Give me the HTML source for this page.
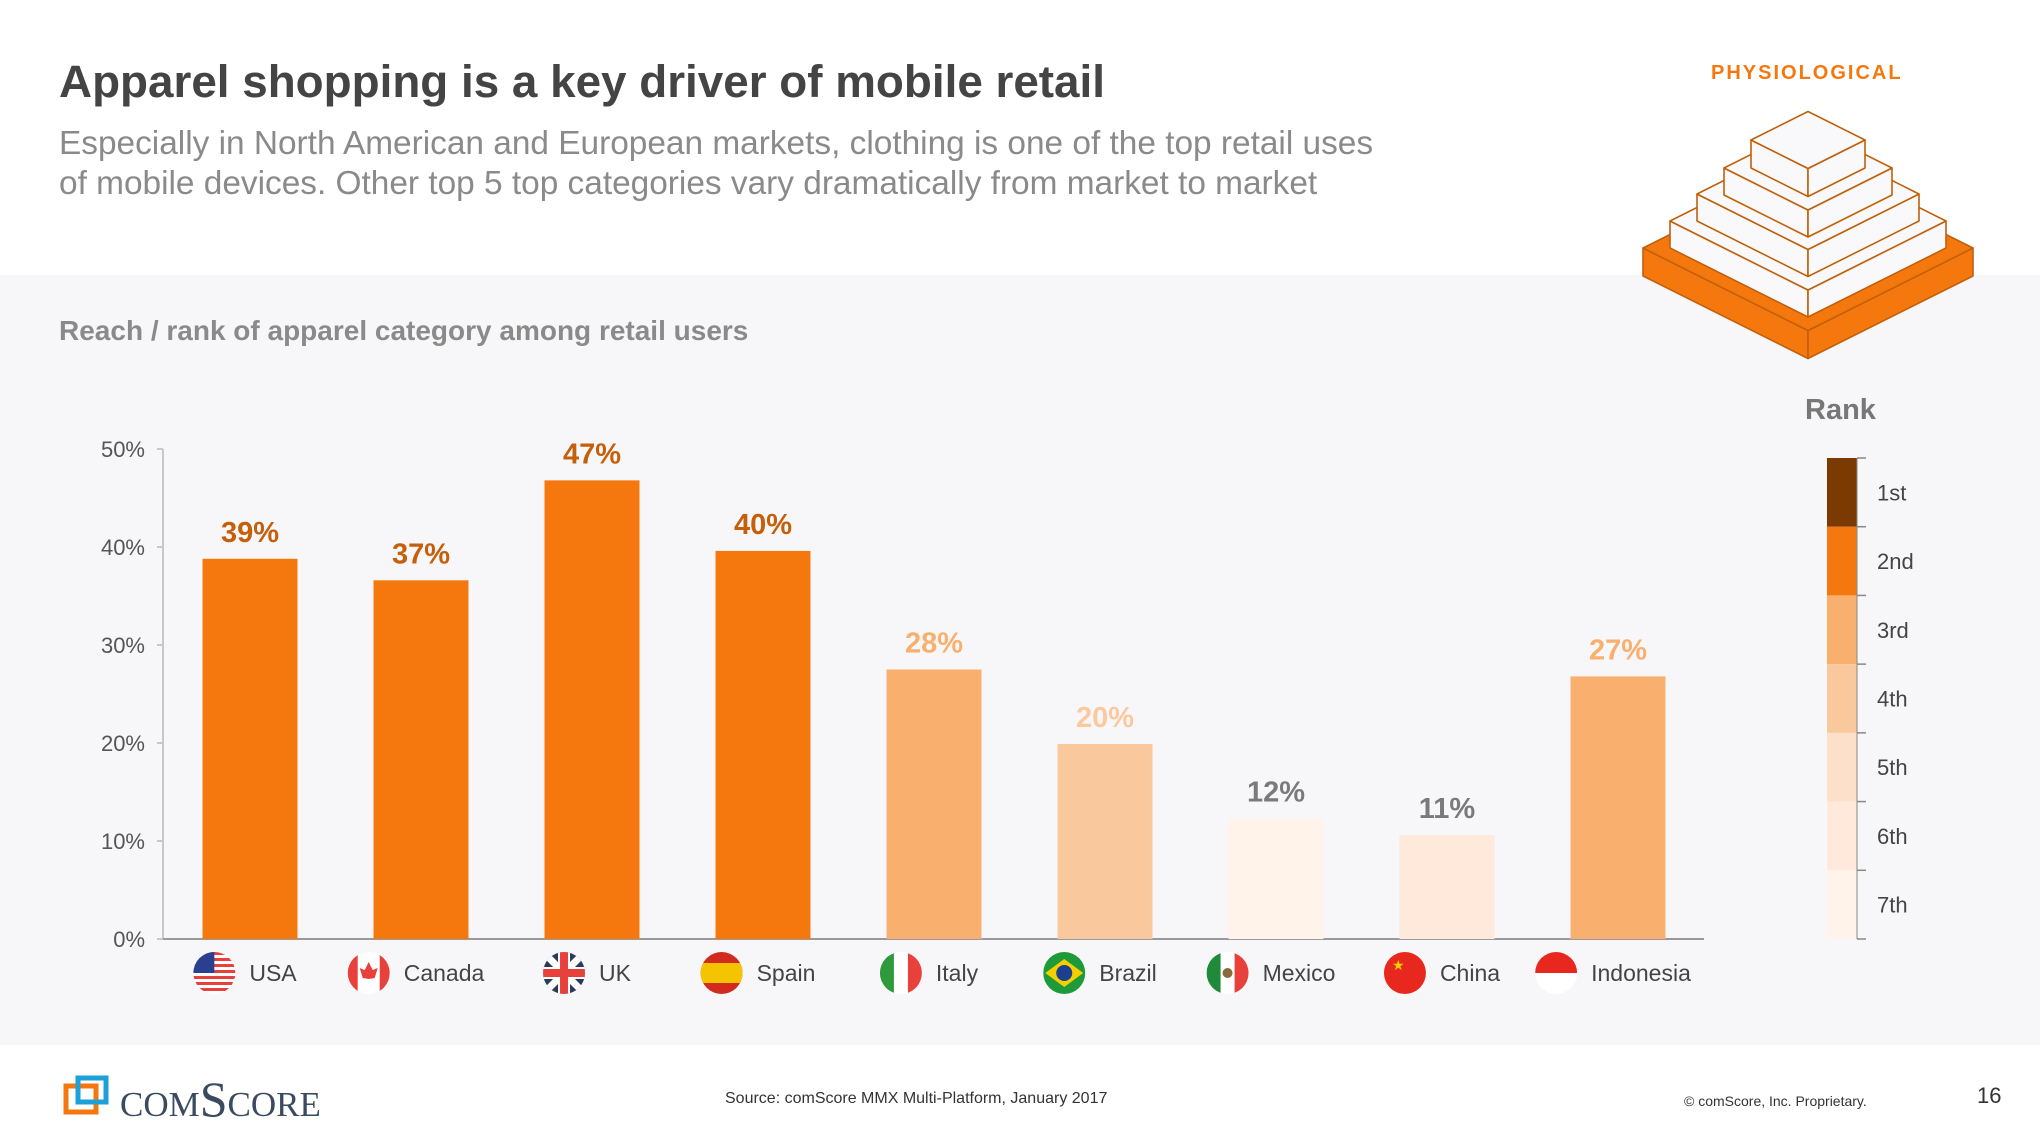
<!DOCTYPE html>
<html><head><meta charset="utf-8">
<style>
body{margin:0;width:2040px;height:1148px;background:#fff;font-family:"Liberation Sans",Arial,sans-serif;position:relative;overflow:hidden}
.abs{position:absolute}
</style></head>
<body>
<div class="abs" style="left:0;top:275px;width:2040px;height:770px;background:#f7f7fa"></div>
<div class="abs" style="left:59px;top:56px;font-size:45.8px;font-weight:bold;color:#444">Apparel shopping is a key driver of mobile retail</div>
<div class="abs" style="left:59px;top:124px;font-size:33.4px;line-height:40px;color:#8a8a8a">Especially in North American and European markets, clothing is one of the top retail uses<br>of mobile devices. Other top 5 top categories vary dramatically from market to market</div>
<div class="abs" style="left:1711px;top:62px;font-size:20px;font-weight:bold;letter-spacing:2px;color:#f5780f">PHYSIOLOGICAL</div>
<div class="abs" style="left:59px;top:315px;font-size:28px;font-weight:bold;color:#8a8a8a">Reach / rank of apparel category among retail users</div>

<svg class="abs" style="left:0;top:0" width="2040" height="400" id="pyr"></svg>
<svg class="abs" style="left:0;top:0" width="2040" height="1148" id="chart"></svg>

<div class="abs" style="left:62px;top:1074px;width:300px;height:50px">
<svg width="50" height="44" style="position:absolute;left:0;top:0"><rect x="4" y="12" width="30" height="26" fill="none" stroke="#f5780f" stroke-width="5"/><rect x="16" y="4" width="28" height="24" fill="none" stroke="#1ea0d8" stroke-width="5"/></svg>
<span style="position:absolute;left:58px;top:-4px;font-family:'Liberation Serif',serif;font-size:50px;font-variant:small-caps;color:#3a4a60">comScore</span></div>
<div class="abs" style="left:725px;top:1090px;font-size:16px;color:#333">Source: comScore MMX Multi-Platform, January 2017</div>
<div class="abs" style="left:1684px;top:1093px;font-size:14px;color:#333">© comScore, Inc. Proprietary.</div>
<div class="abs" style="left:1977px;top:1083px;font-size:22px;color:#333">16</div>

<script>
const countries=["USA","Canada","UK","Spain","Italy","Brazil","Mexico","China","Indonesia"];
const values=[38.8,36.6,46.8,39.6,27.5,19.9,12.3,10.6,26.8];
const ranks=[2,2,2,2,3,4,7,6,3];
const yTicks=[0,10,20,30,40,50];
const rankLabels=["1st","2nd","3rd","4th","5th","6th","7th"];

const NS="http://www.w3.org/2000/svg";
const rankColors=["#7a3a02","#f5780f","#f9b06e","#fac89d","#fde0c9","#fee9da","#fff3ea"];
const labelColors=["#7a3a02","#c55f0a","#f9b06e","#fbc99d","#8a8a8a","#7a7a7a","#7a7a7a"];
function mk(parent,tag,attrs){const e=document.createElementNS(NS,tag);for(const k in attrs)e.setAttribute(k,attrs[k]);parent.appendChild(e);return e;}
const svg=document.getElementById('chart');
const x0=163,x1=1704,yTop=449,yBot=939,vmax=50;
function y(v){return yBot-(v/vmax)*(yBot-yTop);}
const step=171,first=250,bw=95;
function xc(i){return first+i*step;}

let ax=mk(svg,'line',{x1:x0,y1:yTop,x2:x0,y2:yBot,stroke:'#c8c8cc','stroke-width':2});


let bx=mk(svg,'line',{x1:x0,y1:yBot,x2:x1,y2:yBot,stroke:'#9a9a9e','stroke-width':2});


yTicks.forEach(t=>{
  mk(svg,'line',{x1:x0-6,y1:y(t),x2:x0,y2:y(t),stroke:'#c8c8cc','stroke-width':2});
  const tx=mk(svg,'text',{x:x0-18,y:y(t)+8,'text-anchor':'end','font-size':22,fill:'#555'});
  tx.textContent=t+'%';
  
  
});
values.forEach((v,i)=>{
  const r=mk(svg,'rect',{x:xc(i)-bw/2,y:y(v),width:bw,height:yBot-y(v),fill:rankColors[ranks[i]-1]});
  
  
  const t=mk(svg,'text',{x:xc(i),y:y(v)-17,'text-anchor':'middle','font-size':29,'font-weight':'bold',fill:labelColors[ranks[i]-1]});
  t.textContent=Math.round(v)+'%';
  
  
});
const flagDraw={
 USA:(g,cx,cy)=>{for(let k=0;k<7;k++)mk(g,'rect',{x:cx-21,y:cy-21+k*6,width:42,height:3,fill:'#e8403a'});mk(g,'rect',{x:cx-21,y:cy-21,width:21,height:21,fill:'#2a3f8f'});},
 Canada:(g,cx,cy)=>{mk(g,'rect',{x:cx-21,y:cy-21,width:10,height:42,fill:'#e8403a'});mk(g,'rect',{x:cx+11,y:cy-21,width:10,height:42,fill:'#e8403a'});mk(g,'path',{d:`M${cx} ${cy-11}L${cx+4} ${cy-3}L${cx+9} ${cy-5}L${cx+6} ${cy+5}L${cx} ${cy+6}L${cx-6} ${cy+5}L${cx-9} ${cy-5}L${cx-4} ${cy-3}Z`,fill:'#e8403a'});},
 UK:(g,cx,cy)=>{mk(g,'rect',{x:cx-21,y:cy-21,width:42,height:42,fill:'#2a3a5a'});mk(g,'path',{d:`M${cx-21} ${cy-21}L${cx+21} ${cy+21}M${cx+21} ${cy-21}L${cx-21} ${cy+21}`,stroke:'#fff','stroke-width':7});mk(g,'rect',{x:cx-21,y:cy-6,width:42,height:12,fill:'#fff'});mk(g,'rect',{x:cx-6,y:cy-21,width:12,height:42,fill:'#fff'});mk(g,'rect',{x:cx-21,y:cy-4,width:42,height:8,fill:'#e8403a'});mk(g,'rect',{x:cx-4,y:cy-21,width:8,height:42,fill:'#e8403a'});},
 Spain:(g,cx,cy)=>{mk(g,'rect',{x:cx-21,y:cy-21,width:42,height:42,fill:'#d32a1f'});mk(g,'rect',{x:cx-21,y:cy-10,width:42,height:20,fill:'#f5c400'});},
 Italy:(g,cx,cy)=>{mk(g,'rect',{x:cx-21,y:cy-21,width:14,height:42,fill:'#2e9a3c'});mk(g,'rect',{x:cx+7,y:cy-21,width:14,height:42,fill:'#e8403a'});},
 Brazil:(g,cx,cy)=>{mk(g,'rect',{x:cx-21,y:cy-21,width:42,height:42,fill:'#1e9a3a'});mk(g,'path',{d:`M${cx-19} ${cy}L${cx} ${cy-14}L${cx+19} ${cy}L${cx} ${cy+14}Z`,fill:'#f5d000'});mk(g,'circle',{cx:cx,cy:cy,r:8,fill:'#1d3f8f'});},
 Mexico:(g,cx,cy)=>{mk(g,'rect',{x:cx-21,y:cy-21,width:14,height:42,fill:'#1e8a3a'});mk(g,'rect',{x:cx+7,y:cy-21,width:14,height:42,fill:'#e8403a'});mk(g,'circle',{cx:cx,cy:cy,r:5,fill:'#8a6a3a'});},
 China:(g,cx,cy)=>{mk(g,'rect',{x:cx-21,y:cy-21,width:42,height:42,fill:'#e8281e'});mk(g,'text',{x:cx-13,y:cy-3,'font-size':14,fill:'#f5d000'}).textContent='★';},
 Indonesia:(g,cx,cy)=>{mk(g,'rect',{x:cx-21,y:cy-21,width:42,height:21,fill:'#e8281e'});}
};
countries.forEach((c,i)=>{
  const tx=mk(svg,'text',{x:0,y:981,'font-size':23,fill:'#444'});
  tx.textContent=c;
  
  
  const w=tx.getComputedTextLength();
  const total=42+14+w;
  const fx=xc(i)-total/2+16;
  tx.setAttribute('x',fx+35);
  const id='cl'+i;
  const cp=mk(svg,'clipPath',{id:id});mk(cp,'circle',{cx:fx,cy:973,r:21});
  const g=mk(svg,'g',{'clip-path':`url(#${id})`});
  
  
  mk(g,'rect',{x:fx-21,y:952,width:42,height:42,fill:'#fff'});
  flagDraw[c](g,fx,973);
});
const lt=mk(svg,'text',{x:1805,y:419,'font-size':29,'font-weight':'bold',fill:'#777'});
lt.textContent='Rank';


const segH=(939-458)/rankLabels.length;
rankLabels.forEach((r,k)=>{
  const s=mk(svg,'rect',{x:1827,y:458+k*segH,width:30,height:segH,fill:rankColors[k]});
  
  
  mk(svg,'line',{x1:1857,y1:458+k*segH,x2:1866,y2:458+k*segH,stroke:'#888','stroke-width':1.5});
  const t=mk(svg,'text',{x:1877,y:458+k*segH+segH/2+8,'font-size':22,fill:'#444'});
  t.textContent=r;
  
  
});
mk(svg,'line',{x1:1857,y1:939,x2:1866,y2:939,stroke:'#888','stroke-width':1.5});
mk(svg,'line',{x1:1857,y1:458,x2:1857,y2:939,stroke:'#888','stroke-width':1});

const p=document.getElementById('pyr');const cx=1808;
function box(hw,ly,h,fill){
  const st={stroke:'#c0600a','stroke-width':1.6,fill:fill,'stroke-linejoin':'round'};
  mk(p,'path',Object.assign({d:`M${cx-hw} ${ly}L${cx} ${ly+hw/2}L${cx} ${ly+hw/2+h}L${cx-hw} ${ly+h}Z`},st));
  mk(p,'path',Object.assign({d:`M${cx+hw} ${ly}L${cx} ${ly+hw/2}L${cx} ${ly+hw/2+h}L${cx+hw} ${ly+h}Z`},st));
  mk(p,'path',Object.assign({d:`M${cx-hw} ${ly}L${cx} ${ly-hw/2}L${cx+hw} ${ly}L${cx} ${ly+hw/2}Z`},st));
}
box(165,248,28,'#f5780f');
box(138,221,27,'#f9f9fc');
box(111,194,27,'#f9f9fc');
box(84,168,27,'#f9f9fc');
box(57,140,28,'#f9f9fc');
</script>
</body></html>
